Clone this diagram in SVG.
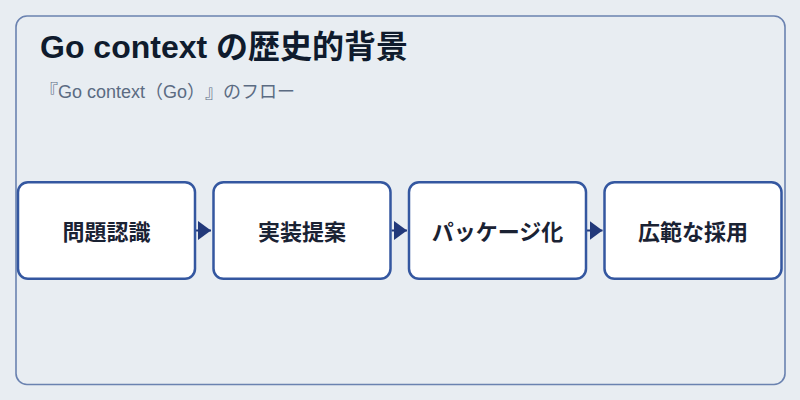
<svg xmlns="http://www.w3.org/2000/svg" width="800" height="400" viewBox="0 0 800 400">
<style>
text{text-spacing-trim:space-all}
.node rect{fill:#ffffff;stroke:#3457a0;stroke-width:2.5}
.node text{font-family:"Liberation Sans","Noto Sans CJK JP",sans-serif;font-size:22px;font-weight:700;fill:#1a2233;text-anchor:middle}
.conn{stroke:#22397a;stroke-width:2;fill:none}
</style>
<defs>
<marker id="arr" viewBox="0 0 13 19" refX="13" refY="9.5" markerWidth="13" markerHeight="19" markerUnits="userSpaceOnUse" orient="auto">
<path d="M0,0 L13,9.5 L0,19 Z" fill="#22397a"/>
</marker>
</defs>
<rect x="0" y="0" width="800" height="400" fill="#e8edf2"/>
<rect x="16" y="16" width="769" height="368.5" rx="11" fill="#e8edf2" stroke="#6a82b0" stroke-width="1.6"/>
<text x="40" y="57.5" font-family="'Liberation Sans','Noto Sans CJK JP',sans-serif" font-size="32" font-weight="700" fill="#0f1b2d">Go context の歴史的背景</text>
<text x="40" y="98" font-family="'Liberation Sans','Noto Sans CJK JP',sans-serif" font-size="18" fill="#5b6b82">『Go context（Go）』のフロー</text>
<g id="connectors">
<path class="conn" d="M196,230.5 L211,230.5" marker-end="url(#arr)"/>
<path class="conn" d="M391.5,230.5 L407,230.5" marker-end="url(#arr)"/>
<path class="conn" d="M587,230.5 L602.5,230.5" marker-end="url(#arr)"/>
</g>
<g id="node1" class="node"><rect x="18" y="182.25" width="177" height="96.5" rx="10"/><text x="106.5" y="240">問題認識</text></g>
<g id="node2" class="node"><rect x="213.5" y="182.25" width="177" height="96.5" rx="10"/><text x="302" y="240">実装提案</text></g>
<g id="node3" class="node"><rect x="409" y="182.25" width="177" height="96.5" rx="10"/><text x="497.5" y="240">パッケージ化</text></g>
<g id="node4" class="node"><rect x="604.5" y="182.25" width="177" height="96.5" rx="10"/><text x="693" y="240">広範な採用</text></g>
</svg>
